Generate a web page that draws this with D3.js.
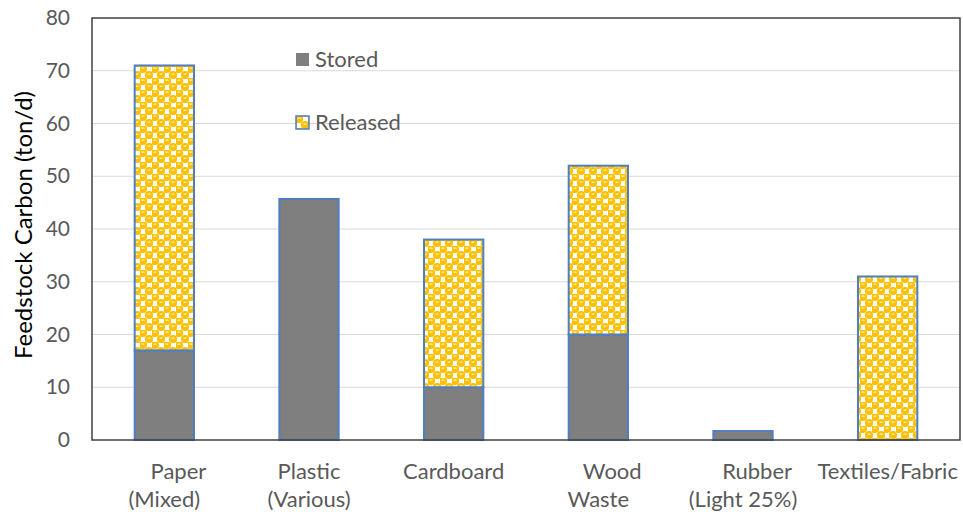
<!DOCTYPE html>
<html>
<head>
<meta charset="utf-8">
<script src="https://cdn.jsdelivr.net/npm/d3@7"></script>
<style>
  body { margin: 0; background: #fff; }
  svg { display: block; font-family: Lato, 'Open Sans', sans-serif; }
</style>
</head>
<body>
<svg id="chart"></svg>
<script>
// data
const categories = ['Paper (Mixed)', 'Plastic (Various)', 'Cardboard', 'Wood Waste', 'Rubber (Light 25%)', 'Textiles/Fabric']
const categoryLines = [['     Paper', '(Mixed)'], ['Plastic', '(Various)'], ['Cardboard'], ['     Wood', 'Waste'], ['     Rubber', '(Light 25%)'], ['Textiles/Fabric']]
const stored = [17, 45.7, 10, 20, 1.7, 0]
const released = [54, 0, 28, 32, 0, 31]
const yTicks = [0, 10, 20, 30, 40, 50, 60, 70, 80]
const seriesNames = ['Stored', 'Released']

const W = 963
const H = 515
const margin = { top: 18, right: 3, bottom: 75, left: 92 }
const width = W - margin.left - margin.right
const height = H - margin.top - margin.bottom

const svg = d3.select('#chart').attr('width', W).attr('height', H)

// gold sphere-ish pattern for the released part
const defs = svg.append('defs')
const pat = defs
  .append('pattern')
  .attr('id', 'released')
  .attr('patternUnits', 'userSpaceOnUse')
  .attr('width', 12)
  .attr('height', 12)
pat.append('rect').attr('width', 12).attr('height', 12).attr('fill', '#fff')
// bubbles (the wrap-around copies keep the tiling seamless)
const bubbles = [[3, 3], [9, 9], [-3, 9], [9, -3], [15, 9], [9, 15]]
pat.selectAll('circle')
  .data(bubbles)
  .join('circle')
  .attr('cx', (d) => d[0])
  .attr('cy', (d) => d[1])
  .attr('r', 4.1)
  .attr('fill', '#FFC000')
pat.append('rect').attr('x', 1.5).attr('y', 1.5).attr('width', 3).attr('height', 1.3).attr('fill', '#FFF2CC')
pat.append('rect').attr('x', 7.5).attr('y', 7.5).attr('width', 3).attr('height', 1.3).attr('fill', '#FFF2CC')

const g = svg.append('g').attr('transform', `translate(${margin.left},${margin.top})`)

const data = categories.map((c, i) => ({ cat: c, Stored: stored[i], Released: released[i] }))

const x = d3.scaleBand().domain(categories).range([0, width]).paddingInner(0.59).paddingOuter(0.295)
const y = d3.scaleLinear().domain([0, 80]).range([height, 0])

// grid
g.selectAll('.grid')
  .data(yTicks.filter((d) => d > 0 && d < 80))
  .join('line')
  .attr('x1', 0)
  .attr('x2', width)
  .attr('y1', (d) => y(d))
  .attr('y2', (d) => y(d))
  .attr('stroke', '#D9D9D9')
  .attr('stroke-width', 1)

// y axis labels
g.append('g')
  .call(d3.axisLeft(y).tickValues(yTicks).tickSize(0).tickPadding(22))
  .call((a) => a.select('.domain').remove())
  .call((a) =>
    a.selectAll('text').attr('fill', '#595959').style('font-size', '21px').style('font-family', 'Lato, sans-serif')
  )

// stacked bars
const stack = d3.stack().keys(seriesNames)(data)
const fills = { Stored: '#7F7F7F', Released: 'url(#released)' }

g.selectAll('.series')
  .data(stack)
  .join('g')
  .attr('fill', (s) => fills[s.key])
  .selectAll('rect')
  .data((s) => s.filter((d) => d[1] - d[0] > 0))
  .join('rect')
  .attr('x', (d) => x(d.data.cat))
  .attr('width', x.bandwidth())
  .attr('y', (d) => y(d[1]))
  .attr('height', (d) => y(d[0]) - y(d[1]))
  .attr('stroke', '#4F7EC1')
  .attr('stroke-width', 2)

// plot frame
g.append('rect')
  .attr('width', width)
  .attr('height', height)
  .attr('fill', 'none')
  .attr('stroke', '#404040')
  .attr('stroke-width', 1.5)

// x labels
const xl = g
  .selectAll('.xl')
  .data(categoryLines)
  .join('text')
  .attr('text-anchor', 'middle')
  .attr('fill', '#595959')
  .style('font-size', '22px')
  .style('white-space', 'pre')
  .attr('x', (d, i) => x(categories[i]) + x.bandwidth() / 2)
  .attr('y', height + 39)
xl.selectAll('tspan')
  .data((d) => d)
  .join('tspan')
  .attr('x', function () {
    return d3.select(this.parentNode).attr('x')
  })
  .attr('dy', (d, i) => (i === 0 ? 0 : 28))
  .text((d) => d)

// y title
svg
  .append('text')
  .attr('transform', `translate(32,${margin.top + height / 2 - 4}) rotate(-90)`)
  .attr('text-anchor', 'middle')
  .attr('fill', '#000')
  .style('font-size', '24px')
  .text('Feedstock Carbon (ton/d)')

// legend
const legend = svg
  .selectAll('.leg')
  .data(seriesNames)
  .join('g')
  .attr('transform', (d, i) => `translate(296,${53 + i * 63})`)
legend
  .append('rect')
  .attr('width', 13)
  .attr('height', 13)
  .attr('fill', (d) => fills[d])
  .attr('stroke', (d) => (d === 'Released' ? '#4F7EC1' : 'none'))
  .attr('stroke-width', 1.5)
legend
  .append('text')
  .attr('x', 19)
  .attr('y', 14)
  .attr('fill', '#595959')
  .style('font-size', '22px')
  .text((d) => d)
</script>
</body>
</html>
